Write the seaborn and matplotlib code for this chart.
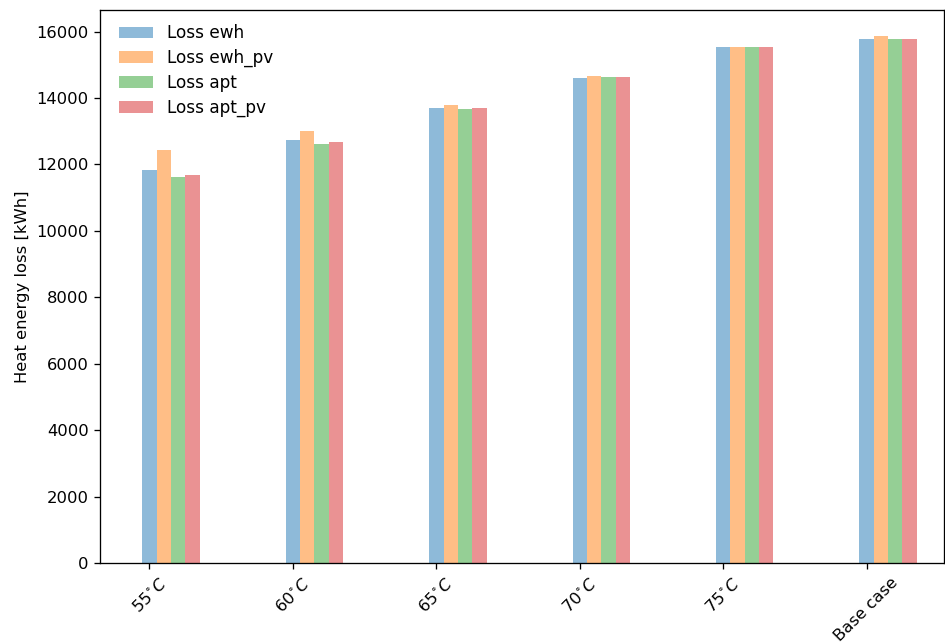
import matplotlib
matplotlib.use("Agg")
import matplotlib.pyplot as plt
import numpy as np
import pandas as pd
import seaborn as sns

# values
conditions = ["$55^{\\circ}C$", "$60^{\\circ}C$", "$65^{\\circ}C$",
              "$70^{\\circ}C$", "$75^{\\circ}C$", "Base case"]
series_names = ["Loss ewh", "Loss ewh_pv", "Loss apt", "Loss apt_pv"]
loss_ewh = [11840, 12740, 13710, 14610, 15530, 15765]
loss_ewh_pv = [12430, 13010, 13800, 14660, 15530, 15860]
loss_apt = [11630, 12630, 13670, 14625, 15530, 15765]
loss_apt_pv = [11690, 12670, 13690, 14645, 15530, 15765]

df = pd.DataFrame({
    "cond": list(range(len(conditions))) * 4,
    "series": np.repeat(series_names, len(conditions)),
    "loss": loss_ewh + loss_ewh_pv + loss_apt + loss_apt_pv,
})

colors = sns.color_palette("tab10", 4)

dpi = 118
fig = plt.figure(figsize=(945 / dpi, 644 / dpi), dpi=dpi)
ax = fig.add_axes([100 / 945, 81 / 644, 0.999 - 100 / 945, 553 / 644])

sns.barplot(data=df, x="cond", y="loss", hue="series", hue_order=series_names,
            palette=colors, saturation=1, width=0.4, dodge=True, alpha=0.5,
            errorbar=None, linewidth=0, ax=ax)

# ticks sit under the first bar of each group
pos = np.arange(len(conditions)) - 0.15
ax.set_xticks(pos)
ax.set_xticklabels(conditions, rotation=45)
ax.set_xlim(-0.495, 5.39)
ax.set_ylim(0, 16650)
ax.set_xlabel("")
ax.set_ylabel("Heat energy loss [kWh]")

leg = ax.get_legend()
handles = leg.legend_handles
for h in handles:
    h.set_alpha(0.5)
    h.set_linewidth(0)
ax.legend(handles, series_names, loc="upper left", frameon=False,
          fontsize=10.3, borderaxespad=0.75, labelspacing=0.4,
          bbox_to_anchor=(0, 1.009))

fig.savefig("out.png", dpi=dpi)
